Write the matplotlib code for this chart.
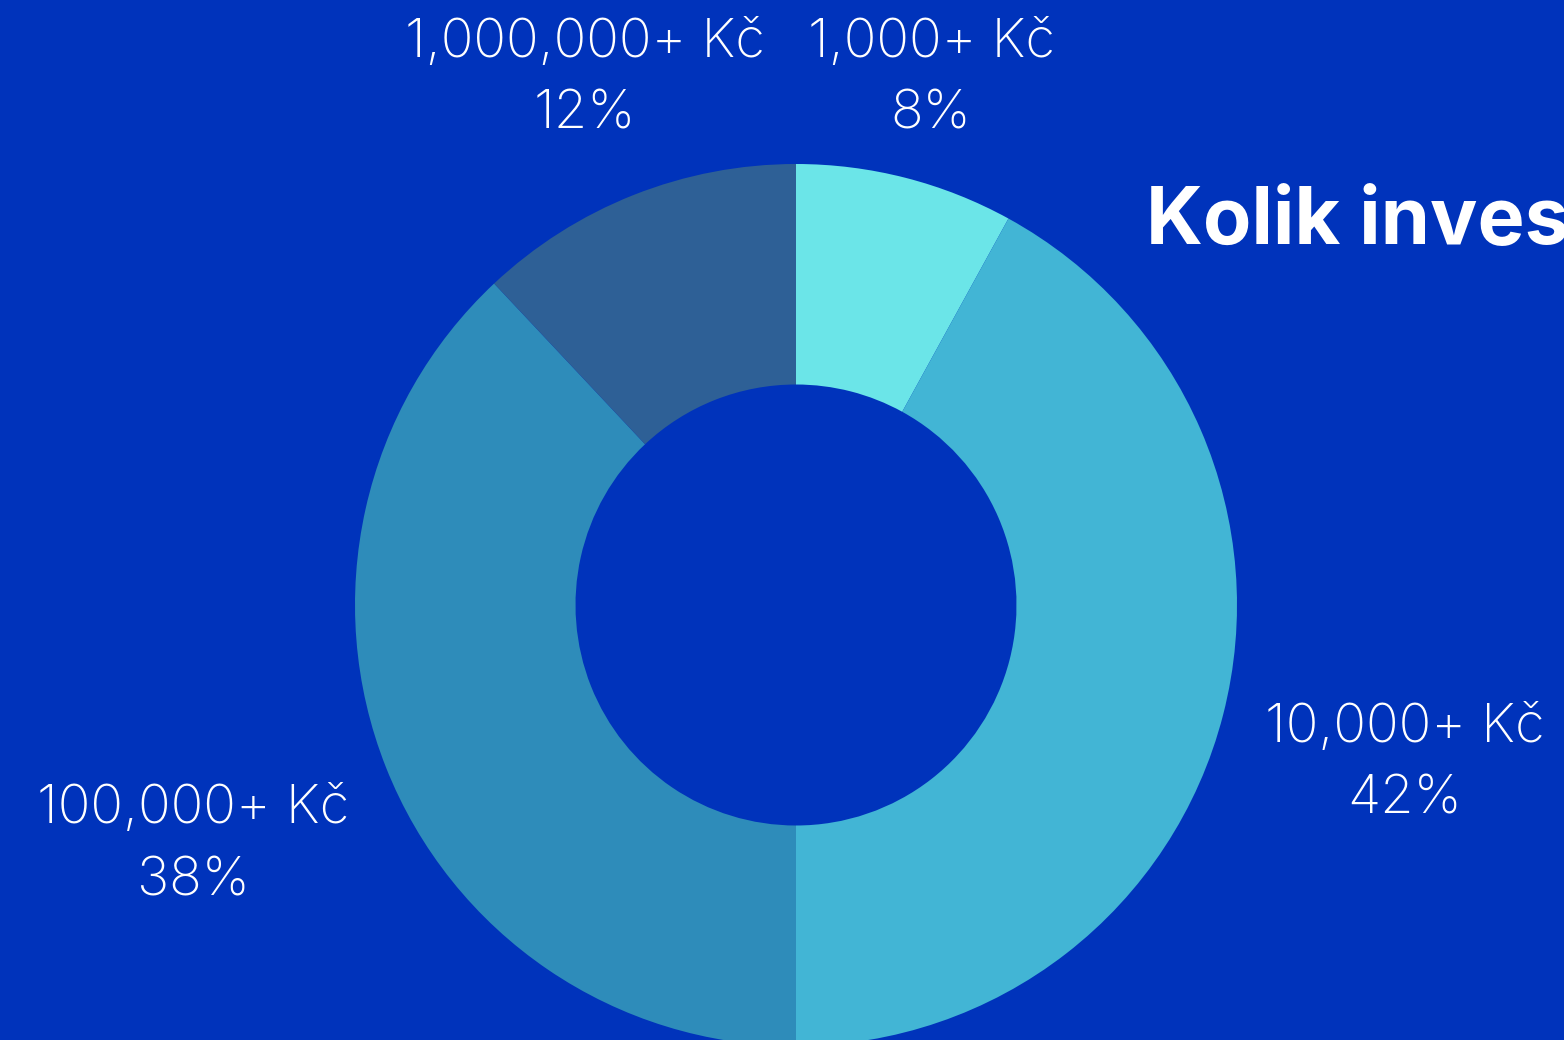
import matplotlib
matplotlib.use("Agg")
import matplotlib.pyplot as plt

categories = ["1,000+ Kč", "10,000+ Kč", "100,000+ Kč", "1,000,000+ Kč"]
values = [8, 42, 38, 12]
colors = ["#6BE5E8", "#42B5D5", "#2E8CBA", "#2E6096"]
title = "Kolik investujete?"

BG = "#0033BB"
W, H = 1564, 1040
fig = plt.figure(figsize=(W / 100, H / 100), dpi=100, facecolor=BG)
ax = fig.add_axes([0, 0, 1, 1])
ax.set_facecolor(BG)

cx, cy, R = 796, 605, 441
ax.pie(values, colors=colors, startangle=90, counterclock=False, radius=1,
       wedgeprops=dict(width=0.5, linewidth=0), center=(0, 0), frame=True)
ax.set_xlim(-cx / R, (W - cx) / R)
ax.set_ylim(-(H - cy) / R, cy / R)
ax.set_aspect("equal")
ax.axis("off")

# label positions in pixel space (centers of line 1 / line 2)
label_pos = {
    "1,000+ Kč": (931, 43, 114),
    "10,000+ Kč": (1405, 728, 799),
    "100,000+ Kč": (193, 809, 881),
    "1,000,000+ Kč": (585, 43, 114),
}
lab_font = dict(family=["Inter", "DejaVu Sans"], fontweight="light", fontsize=39, color="white",
                ha="center", va="center")
for cat, v in zip(categories, values):
    px, y1, y2 = label_pos[cat]
    ax.text((px - cx) / R, (cy - y1) / R, cat, **lab_font)
    ax.text((px - cx) / R, (cy - y2) / R, f"{v}%", **lab_font)

fig.text(1146 / W, 1 - 222 / H, title, family=["Inter", "DejaVu Sans"], fontweight="bold",
         fontsize=57, color="white", ha="left", va="center")

fig.savefig("out.png", dpi=100, facecolor=BG)
